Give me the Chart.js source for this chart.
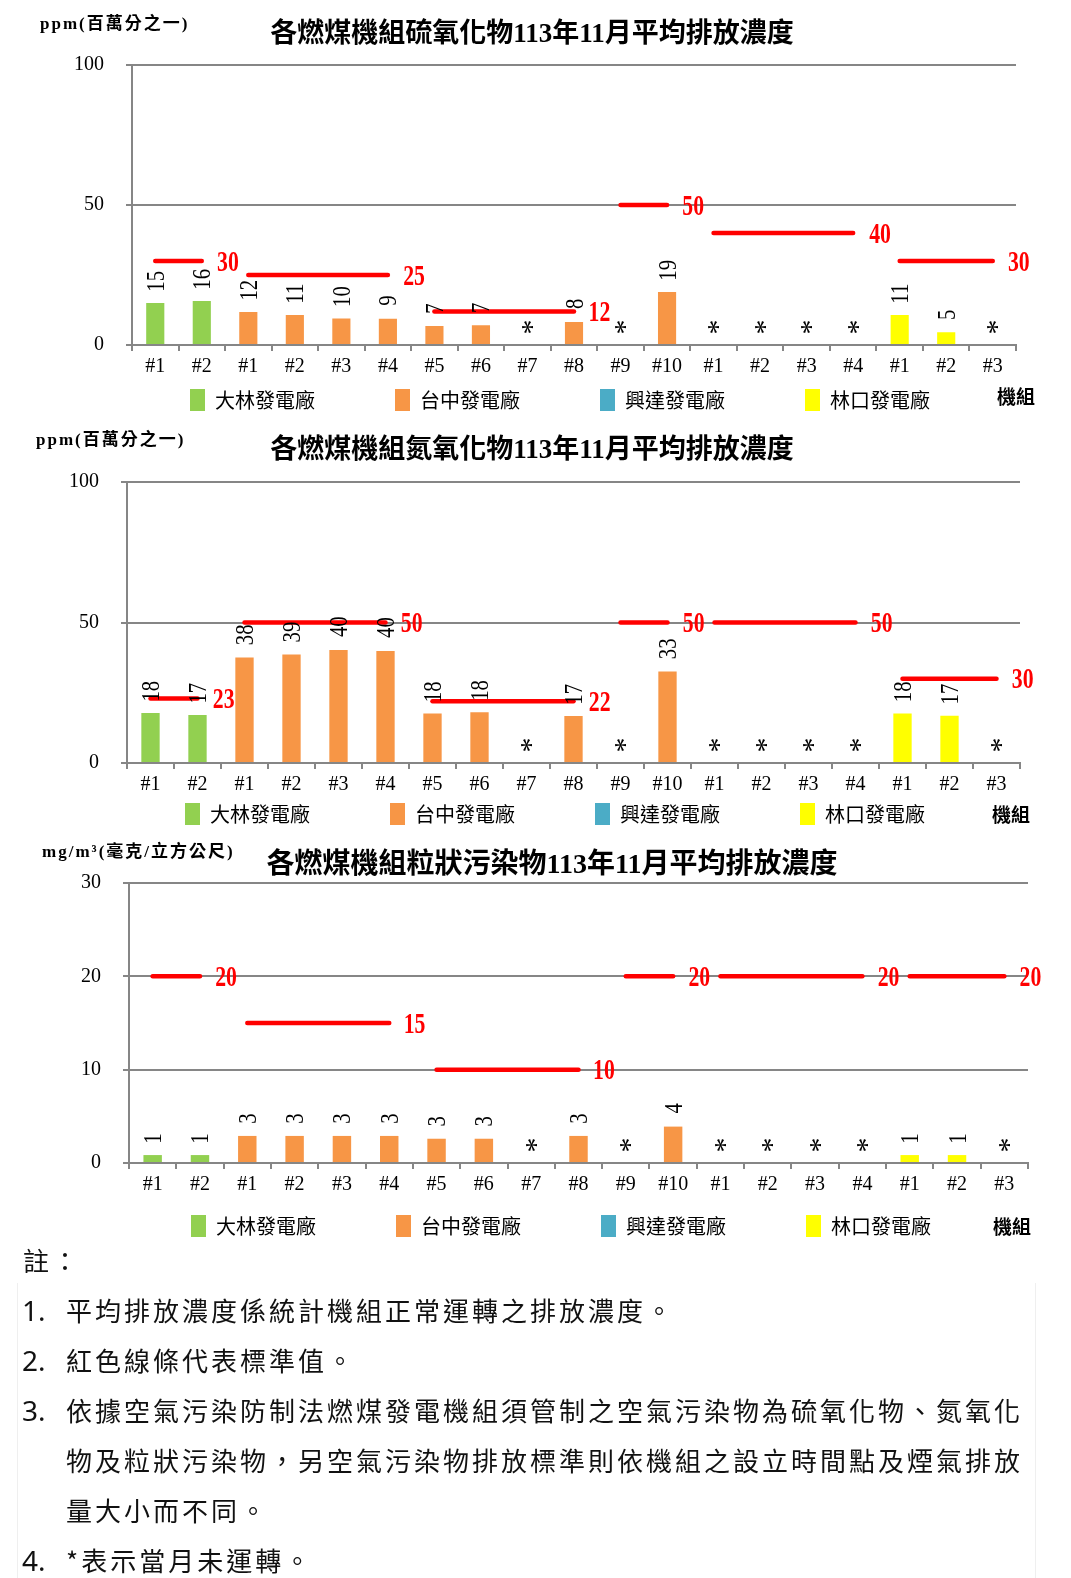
<!DOCTYPE html>
<html>
<head>
<meta charset="utf-8">
<script src="https://cdn.jsdelivr.net/npm/chart.js@4.4.1/dist/chart.umd.min.js"></script>
<style>
html,body{margin:0;padding:0;background:#fff;}
body{width:1071px;height:1578px;position:relative;overflow:hidden;}
canvas.c{position:absolute;left:0;}
#notes{position:absolute;left:0;top:1235px;width:1071px;font-family:'Noto Sans CJK TC',sans-serif;font-size:26px;letter-spacing:3px;color:#111;}
#frame{position:absolute;left:17px;top:1283px;width:1017px;height:300px;border-left:1px solid #efefef;border-right:1px solid #efefef;}
.ln{height:50px;line-height:50px;white-space:nowrap;position:relative;}
.num{position:absolute;left:22px;letter-spacing:0;font-family:'Noto Sans','Noto Sans CJK TC',sans-serif;font-size:28px;}
.tx{position:absolute;left:66px;}
.hd{position:absolute;left:23px;}
</style>
</head>
<body>
<canvas id="c1" class="c" width="1071" height="493" style="top:0px"></canvas>
<canvas id="c2" class="c" width="1071" height="496" style="top:415px"></canvas>
<canvas id="c3" class="c" width="1071" height="481" style="top:830px"></canvas>
<div id="frame"></div>
<div id="notes">
  <div class="ln"><span class="hd">註：</span></div>
  <div class="ln"><span class="num">1.</span><span class="tx">平均排放濃度係統計機組正常運轉之排放濃度。</span></div>
  <div class="ln"><span class="num">2.</span><span class="tx">紅色線條代表標準值。</span></div>
  <div class="ln"><span class="num">3.</span><span class="tx">依據空氣污染防制法燃煤發電機組須管制之空氣污染物為硫氧化物、氮氧化</span></div>
  <div class="ln"><span class="tx">物及粒狀污染物，另空氣污染物排放標準則依機組之設立時間點及煙氣排放</span></div>
  <div class="ln"><span class="tx">量大小而不同。</span></div>
  <div class="ln"><span class="num">4.</span><span class="tx">*表示當月未運轉。</span></div>
</div>
<script>
// ---------------- data ----------------
const categories = ['#1','#2','#1','#2','#3','#4','#5','#6','#7','#8','#9','#10','#1','#2','#3','#4','#1','#2','#3'];
const plants = ['大林發電廠','台中發電廠','興達發電廠','林口發電廠'];
const plantOf = [0,0,1,1,1,1,1,1,1,1,1,1,2,2,2,2,3,3,3];
const plantColors = ['#92D050','#F79646','#4BACC6','#FFFF00'];

// null = 當月未運轉 (*)
const so2Values = [15.0,15.7,11.8,10.7,9.5,9.4,6.8,7.1,null,8.2,null,18.9,null,null,null,null,10.7,4.6,null];
const noxValues = [17.8,17.1,37.6,38.6,40.2,39.9,17.6,18.1,null,16.7,null,32.6,null,null,null,null,17.6,16.8,null];
const pmValues  = [0.85,0.85,2.9,2.9,2.9,2.9,2.6,2.6,null,2.9,null,3.9,null,null,null,null,0.85,0.85,null];

// standards (red lines) and which segment each unit belongs to
const stdGroup = [0,0,1,1,1,1,2,2,2,2,3,3,4,4,4,4,5,5,5];
const so2Std = [30,30,25,25,25,25,12,12,12,12,50,50,40,40,40,40,30,30,30];
const noxStd = [23,23,50,50,50,50,22,22,22,22,50,50,50,50,50,50,30,30,30];
const pmStd  = [20,20,15,15,15,15,10,10,10,10,20,20,20,20,20,20,20,20,20];

const so2Ticks = [0,50,100];
const noxTicks = [0,50,100];
const pmTicks  = [0,10,20,30];

const so2Title = '各燃煤機組硫氧化物113年11月平均排放濃度';
const noxTitle = '各燃煤機組氮氧化物113年11月平均排放濃度';
const pmTitle  = '各燃煤機組粒狀污染物113年11月平均排放濃度';
const ppmUnit = 'ppm(百萬分之一)';
const pmUnit  = 'mg/m³(毫克/立方公尺)';
const xName = '機組';
const starText = '*';

// ---------------- drawing helpers ----------------
function drawInk(ctx, text, x, y, o) {
  ctx.save();
  ctx.font = o.font;
  ctx.fillStyle = o.color || '#000';
  ctx.textAlign = 'left';
  ctx.textBaseline = 'alphabetic';
  const m = ctx.measureText(text);
  const cy = (m.actualBoundingBoxDescent - m.actualBoundingBoxAscent) / 2;
  const inkL = -m.actualBoundingBoxLeft, inkR = m.actualBoundingBoxRight;
  ctx.translate(x, y);
  if (o.rotate) ctx.rotate(o.rotate);
  if (o.scaleX) ctx.scale(o.scaleX, 1);
  const dx = o.anchor === 'center' ? -(inkL + inkR) / 2 : -inkL;
  ctx.fillText(text, dx, -cy);
  ctx.restore();
}

const SERIF = '"Liberation Serif", "DejaVu Serif", serif';
const MIX = '"Liberation Serif", "Noto Sans CJK TC", serif';
const CJK = '"Noto Sans CJK TC", "Noto Sans CJK SC", sans-serif';

function buildChart(id, cfg) {
  const datasets = [];
  plants.forEach((p, k) => {
    datasets.push({
      type: 'bar', label: p,
      data: cfg.values.map((v, i) => plantOf[i] === k ? v : null),
      backgroundColor: plantColors[k], borderWidth: 0,
      grouped: false, barPercentage: 0.39, categoryPercentage: 1, order: 2
    });
  });
  const groups = [...new Set(stdGroup)];
  groups.forEach(g => {
    datasets.push({
      type: 'line', label: '標準值',
      data: cfg.std.map((v, i) => stdGroup[i] === g ? v : null),
      borderColor: '#FF0000', backgroundColor: '#FF0000', borderWidth: 4.5,
      borderCapStyle: 'round', pointRadius: 0, pointHoverRadius: 0,
      fill: false, spanGaps: false, order: 1
    });
  });

  const annot = {
    id: 'annot',
    afterLayout(chart) {
      // pull the legend row up under the category labels and nudge it sideways
      const L = chart.legend;
      if (L) {
        L.top -= cfg.legShift; L.bottom -= cfg.legShift;
        L.left += cfg.legShiftX; L.right += cfg.legShiftX;
      }
    },
    afterDatasetsDraw(chart) {
      const ctx = chart.ctx, xs = chart.scales.x, ys = chart.scales.y;
      // value labels and "*" for units not operated
      cfg.values.forEach((v, i) => {
        const x = xs.getPixelForValue(i);
        if (v === null) {
          drawInk(ctx, starText, x, ys.getPixelForValue(0) - 18,
            {font: '30px ' + SERIF, rotate: Math.PI / 2, anchor: 'center'});
        } else {
          drawInk(ctx, String(Math.round(v)), x, ys.getPixelForValue(v) - 13,
            {font: '26px ' + SERIF, rotate: -Math.PI / 2, scaleX: 0.8, anchor: 'start'});
        }
      });
      // standard value labels at the right end of each red line
      groups.forEach(g => {
        let last = -1;
        stdGroup.forEach((gg, i) => { if (gg === g) last = i; });
        const x = xs.getPixelForValue(last) + 16;
        const y = ys.getPixelForValue(cfg.std[last]);
        drawInk(ctx, String(cfg.std[last]), x, y,
          {font: 'bold 29px ' + SERIF, color: '#FF0000', scaleX: 0.75, anchor: 'start'});
      });
      // unit text and category axis name
      ctx.save();
      ctx.fillStyle = '#000';
      ctx.textAlign = 'left';
      ctx.textBaseline = 'middle';
      ctx.font = 'bold 17px ' + MIX;
      try { ctx.letterSpacing = '2px'; } catch (e) {}
      ctx.fillText(cfg.unit, cfg.unitPos[0], cfg.unitPos[1]);
      try { ctx.letterSpacing = '0px'; } catch (e) {}
      ctx.font = 'bold 19px ' + CJK;
      ctx.fillText(xName, cfg.namePos[0], cfg.namePos[1]);
      ctx.restore();
    }
  };

  return new Chart(document.getElementById(id), {
    type: 'bar',
    data: {labels: categories, datasets},
    options: {
      responsive: false, animation: false, devicePixelRatio: 1,
      events: [],
      layout: {padding: cfg.pad},
      scales: {
        x: {
          offset: true,
          grid: {offset: true, drawOnChartArea: false, drawTicks: true, tickLength: 6, color: '#868686', lineWidth: 2},
          border: {display: true, color: '#868686', width: 2},
          ticks: {font: {family: SERIF, size: 20}, color: '#000', padding: 4, maxRotation: 0, minRotation: 0, autoSkip: false},
          afterFit: s => { s.height = 36; }
        },
        y: {
          min: cfg.ticks[0], max: cfg.ticks[cfg.ticks.length - 1],
          grid: {color: '#868686', lineWidth: 2, drawTicks: true, tickLength: 6},
          border: {display: true, color: '#868686', width: 2},
          ticks: {font: {family: SERIF, size: 20}, color: '#000', padding: 22},
          afterBuildTicks: s => { s.ticks = cfg.ticks.map(v => ({value: v})); },
          afterFit: s => { s.width = cfg.yW; }
        }
      },
      plugins: {
        title: {display: true, text: cfg.title, color: '#000',
          font: {family: MIX, size: cfg.titleSize, weight: 'bold'}, padding: cfg.titlePad},
        legend: {display: true, position: 'bottom',
          labels: {filter: it => it.datasetIndex < plants.length, boxWidth: 15, boxHeight: 22,
            padding: 80, color: '#000', font: {family: CJK, size: 20}}},
        tooltip: {enabled: false}
      }
    },
    plugins: [annot]
  });
}

// legend item spacing comes from the label padding; the row itself is moved
// up under the category labels by legShift
buildChart('c1', {
  values: so2Values, std: so2Std, ticks: so2Ticks, title: so2Title, unit: ppmUnit,
  pad: {left: 48, right: 55, top: 0, bottom: 0}, yW: 84, legShift: 72, legShiftX: 28,
  titleSize: 27, titlePad: {top: 18.8, bottom: 14.0},
  unitPos: [40, 25], namePos: [997, 397]
});
buildChart('c2', {
  values: noxValues, std: noxStd, ticks: noxTicks, title: noxTitle, unit: ppmUnit,
  pad: {left: 44, right: 51, top: 0, bottom: 0}, yW: 83, legShift: 76, legShiftX: 23,
  titleSize: 27, titlePad: {top: 19.8, bottom: 15.0},
  unitPos: [36, 26], namePos: [992, 400]
});
buildChart('c3', {
  values: pmValues, std: pmStd, ticks: pmTicks, title: pmTitle, unit: pmUnit,
  pad: {left: 76, right: 43, top: 0, bottom: 0}, yW: 53, legShift: 64, legShiftX: 9,
  titleSize: 28, titlePad: {top: 19.2, bottom: 0.2},
  unitPos: [42, 23], namePos: [993, 397]
});
</script>
</body>
</html>
